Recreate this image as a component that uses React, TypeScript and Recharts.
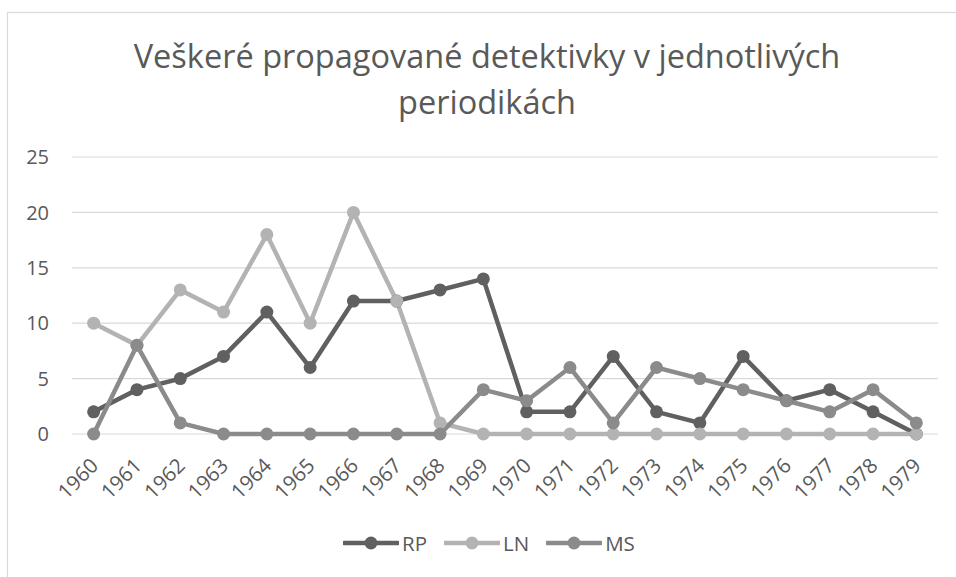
import { LineChart, Line, XAxis, YAxis, CartesianGrid, Legend } from "recharts";

const years = [
  "1960", "1961", "1962", "1963", "1964", "1965", "1966", "1967", "1968", "1969",
  "1970", "1971", "1972", "1973", "1974", "1975", "1976", "1977", "1978", "1979",
];
const rp = [2, 4, 5, 7, 11, 6, 12, 12, 13, 14, 2, 2, 7, 2, 1, 7, 3, 4, 2, 0];
const ln = [10, 8, 13, 11, 18, 10, 20, 12, 1, 0, 0, 0, 0, 0, 0, 0, 0, 0, 0, 0];
const ms = [0, 8, 1, 0, 0, 0, 0, 0, 0, 4, 3, 6, 1, 6, 5, 4, 3, 2, 4, 1];
const yTicks = [0, 5, 10, 15, 20, 25];
const titleLines = ["Veškeré propagované detektivky v jednotlivých", "periodikách"];

const series = [
  { key: "RP", color: "#606060" },
  { key: "LN", color: "#b3b3b3" },
  { key: "MS", color: "#8b8b8b" },
];

const data = years.map((year, i) => ({ year, RP: rp[i], LN: ln[i], MS: ms[i] }));

const FONT = "'Open Sans', Lato, sans-serif";
const TEXT = "#595959";

function YearTick({ x, y, payload }: any) {
  const tx = x + 6;
  const ty = y + 33;
  return (
    <text
      x={tx}
      y={ty}
      transform={`rotate(-45 ${tx} ${ty})`}
      textAnchor="end"
      fill={TEXT}
      fontSize={20.5}
      fontFamily={FONT}
    >
      {payload.value}
    </text>
  );
}

function LegendContent() {
  return (
    <div style={{ display: "flex", alignItems: "center", height: 30, paddingLeft: 343 }}>
      {series.map((s) => (
        <div key={s.key} style={{ display: "flex", alignItems: "center", marginRight: 17 }}>
          <svg width={56} height={16}>
            <line x1={1} y1={8} x2={55} y2={8} stroke={s.color} strokeWidth={4.5} strokeLinecap="round" />
            <circle cx={28} cy={8} r={6.5} fill={s.color} />
          </svg>
          <span style={{ fontFamily: FONT, fontSize: 20.5, color: TEXT, marginLeft: 3 }}>{s.key}</span>
        </div>
      ))}
    </div>
  );
}

export default function App() {
  return (
    <div style={{ position: "absolute", left: 0, top: 0, width: 956, height: 577, background: "#fff", overflow: "hidden" }}>
      <svg width={956} height={577} style={{ position: "absolute", left: 0, top: 0 }}>
        <rect x={7.5} y={12.5} width={1000} height={700} fill="none" stroke="#d9d9d9" strokeWidth={1.2} />
        <text x={487} y={68} textAnchor="middle" fontFamily={FONT} fontSize={32.5} fill={TEXT}>
          {titleLines[0]}
        </text>
        <text x={487} y={114} textAnchor="middle" fontFamily={FONT} fontSize={32.5} fill={TEXT}>
          {titleLines[1]}
        </text>
      </svg>
      <div style={{ position: "absolute", left: 0, top: 0 }}>
        <LineChart width={956} height={577} data={data} margin={{ top: 157, right: 18, left: 0, bottom: 19 }}>
          <CartesianGrid vertical={false} stroke="#d9d9d9" strokeWidth={1.2} />
          <XAxis
            dataKey="year"
            interval={0}
            height={94}
            tickSize={0}
            tickMargin={0}
            axisLine={false}
            tickLine={false}
            padding={{ left: 21.65, right: 21.65 }}
            tick={<YearTick />}
          />
          <YAxis
            domain={[0, 25]}
            ticks={yTicks}
            width={72}
            tickSize={0}
            tickMargin={23}
            axisLine={false}
            tickLine={false}
            tick={{ fill: TEXT, fontSize: 20, fontFamily: FONT }}
          />
          <Legend verticalAlign="bottom" height={30} wrapperStyle={{ left: 0, width: 956 }} content={<LegendContent />} />
          {series.map((s) => (
            <Line
              key={s.key}
              type="linear"
              dataKey={s.key}
              stroke={s.color}
              strokeWidth={4.5}
              dot={{ r: 6.5, fill: s.color, stroke: s.color, strokeWidth: 0 }}
              activeDot={false}
              isAnimationActive={false}
            />
          ))}
        </LineChart>
      </div>
    </div>
  );
}
